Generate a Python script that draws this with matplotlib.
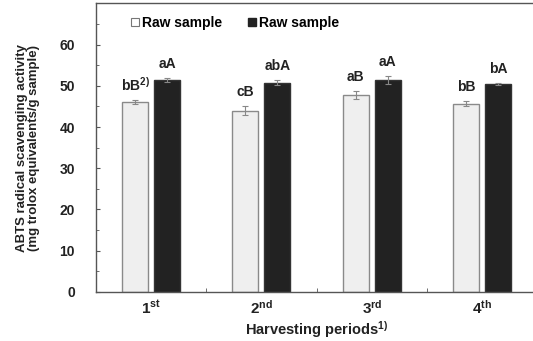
#!/usr/bin/env python3
import matplotlib
matplotlib.use("Agg")
import matplotlib.pyplot as plt
from matplotlib.patches import Patch
import numpy as np

plt.rcParams['font.family'] = ['Liberation Sans', 'DejaVu Sans']
plt.rcParams['font.weight'] = 'bold'
plt.rcParams['mathtext.fontset'] = 'custom'
plt.rcParams['mathtext.bf'] = 'Liberation Sans:bold'
plt.rcParams['mathtext.rm'] = 'Liberation Sans:bold'
plt.rcParams['mathtext.default'] = 'bf'

# Data
periods = ["1$^{st}$", "2$^{nd}$", "3$^{rd}$", "4$^{th}$"]
raw_vals = [46.0, 44.0, 47.8, 45.7]
raw_err = [0.5, 1.0, 1.0, 0.6]
proc_vals = [51.4, 50.8, 51.4, 50.4]
proc_err = [0.4, 0.6, 1.0, 0.3]
raw_letters = ["bB$^{2)}$", "cB", "aB", "bB"]
proc_letters = ["aA", "abA", "aA", "bA"]
series_names = ["Raw sample", "Raw sample"]

fig = plt.figure(figsize=(5.33, 3.41), dpi=100)
ax = fig.add_axes([0.180, 0.144, 0.828, 0.846])

x = np.arange(len(periods))
w = 0.235
off = 0.145

ekw = dict(ecolor="#888888", elinewidth=0.8, capsize=2, capthick=0.8)
ax.bar(x - off, raw_vals, w, yerr=raw_err, color="#efefef",
       edgecolor="#8a8a8a", linewidth=1.0, error_kw=ekw, zorder=2)
ax.bar(x + off, proc_vals, w, yerr=proc_err, color="#222222",
       edgecolor="#333333", linewidth=1.0, error_kw=ekw, zorder=2)

for i in range(len(periods)):
    ax.annotate(raw_letters[i], (x[i] - off, raw_vals[i] + raw_err[i]),
                xytext=(0, 5), textcoords="offset points", ha="center",
                va="bottom", fontsize=10, fontweight="bold", color="#222222")
    ax.annotate(proc_letters[i], (x[i] + off, proc_vals[i] + proc_err[i]),
                xytext=(0, 5), textcoords="offset points", ha="center",
                va="bottom", fontsize=10, fontweight="bold", color="#222222")

ax.set_xlim(-0.5, 3.5)
ax.set_ylim(0, 70)
ax.set_yticks(np.arange(0, 61, 10))
ax.set_yticks(np.arange(5, 70, 10), minor=True)
ax.set_xticks(x)
ax.set_xticklabels(periods, fontsize=11, color="#222222")
ax.set_xticks([0.5, 1.5, 2.5], minor=True)
ax.tick_params(axis="both", which="both", direction="in", color="#555555")
ax.tick_params(axis="y", which="major", length=3, labelsize=10, pad=15,
               labelcolor="#222222")
ax.tick_params(axis="y", which="minor", length=2)
ax.tick_params(axis="x", which="major", length=0, pad=5)
ax.tick_params(axis="x", which="minor", length=3)
for s in ax.spines.values():
    s.set_color("#555555")
    s.set_linewidth(1.0)

ax.set_ylabel("ABTS radical scavenging activity\n(mg trolox equivalents/g sample)",
              fontsize=9.5, fontweight="bold", linespacing=1.0,
              color="#222222", va="center", ha="center")
ax.yaxis.set_label_coords(-0.153, 0.5)
ax.set_xlabel("Harvesting periods$^{1)}$", fontsize=10.5, fontweight="bold",
              color="#222222", va="center")
ax.xaxis.set_label_coords(0.5, -0.132)

handles = [Patch(facecolor="#ffffff", edgecolor="#777777", linewidth=0.8),
           Patch(facecolor="#222222", edgecolor="#222222")]
ax.legend(handles, series_names, ncol=2, loc="upper left",
          bbox_to_anchor=(0.05, 1.0), frameon=False,
          handlelength=0.6, handleheight=0.6, handletextpad=0.2,
          columnspacing=1.9, prop={"weight": "bold", "size": 10})

fig.savefig("out.png", dpi=100)
